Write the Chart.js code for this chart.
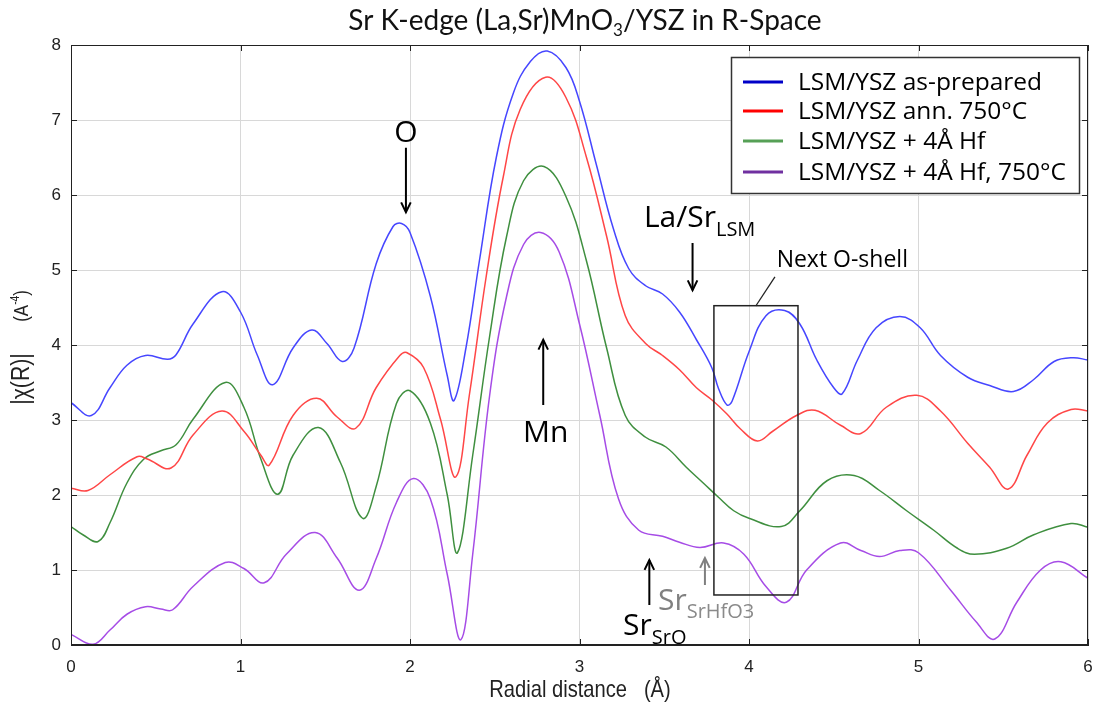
<!DOCTYPE html>
<html><head><meta charset="utf-8">
<script src="https://cdn.jsdelivr.net/npm/chart.js@4/dist/chart.umd.min.js"></script>
<style>html,body{margin:0;padding:0;background:#fff;}#wrap{width:1095px;height:707px;}</style>
</head><body><div id="wrap"><canvas id="c" width="1095" height="707"></canvas></div>
<script>
// ---- data (radial distance in Å, |chi(R)| in Å^-4) ----
const seriesNames = ["LSM/YSZ as-prepared", "LSM/YSZ ann. 750°C", "LSM/YSZ + 4Å Hf", "LSM/YSZ + 4Å Hf, 750°C"];
const xTicks = [0, 1, 2, 3, 4, 5, 6];
const yTicks = [0, 1, 2, 3, 4, 5, 6, 7, 8];

const rAsPrep = [0,0.12,0.23,0.33,0.44,0.57,0.62,0.72,0.89,1.0,1.10,1.19,1.31,1.42,1.51,1.60,1.67,1.80,1.90,1.95,2.0,2.12,2.22,2.26,2.33,2.41,2.51,2.61,2.71,2.81,2.92,3.0,3.10,3.20,3.29,3.39,3.49,3.59,3.69,3.78,3.82,3.87,3.90,4.0,4.10,4.21,4.30,4.40,4.50,4.55,4.64,4.75,4.89,5.01,5.13,5.29,5.42,5.56,5.68,5.80,5.91,6.0];
const chiAsPrep = [3.23,3.06,3.43,3.73,3.86,3.81,3.87,4.28,4.71,4.44,3.86,3.47,3.96,4.20,4.02,3.78,3.96,5.08,5.58,5.62,5.50,4.65,3.59,3.26,3.96,5.13,6.51,7.36,7.78,7.92,7.70,7.25,6.40,5.55,5.02,4.79,4.68,4.44,4.07,3.70,3.42,3.20,3.25,3.91,4.39,4.46,4.28,3.80,3.43,3.35,3.80,4.23,4.38,4.23,3.86,3.57,3.46,3.38,3.54,3.78,3.83,3.80];

const rAnn = [0,0.10,0.23,0.39,0.45,0.59,0.72,0.89,1.02,1.12,1.17,1.31,1.45,1.57,1.68,1.80,1.94,1.98,2.08,2.18,2.27,2.35,2.45,2.55,2.65,2.80,2.92,3.04,3.16,3.27,3.39,3.49,3.59,3.69,3.78,3.87,3.95,4.05,4.14,4.28,4.39,4.54,4.66,4.81,4.99,5.13,5.29,5.42,5.53,5.64,5.76,5.90,6.0];
const chiAnn = [2.09,2.06,2.27,2.51,2.48,2.36,2.80,3.12,2.85,2.53,2.40,3.06,3.29,3.04,2.89,3.43,3.86,3.90,3.70,3.01,2.24,3.33,4.92,6.24,7.14,7.57,7.30,6.51,5.45,4.39,4.02,3.86,3.67,3.43,3.27,3.08,2.88,2.72,2.85,3.06,3.13,2.93,2.82,3.17,3.33,3.12,2.69,2.37,2.08,2.53,2.96,3.14,3.12];

const rHf = [0,0.07,0.16,0.23,0.33,0.43,0.53,0.62,0.72,0.91,1.02,1.12,1.22,1.31,1.46,1.59,1.72,1.80,1.92,2.0,2.12,2.22,2.28,2.37,2.47,2.57,2.67,2.79,2.92,3.04,3.16,3.27,3.39,3.51,3.63,3.73,3.82,3.91,4.0,4.19,4.30,4.46,4.62,4.77,4.93,5.09,5.23,5.33,5.52,5.68,5.90,6.0];
const chiHf = [1.58,1.47,1.38,1.63,2.16,2.48,2.59,2.67,3.01,3.50,3.17,2.48,2.01,2.53,2.90,2.43,1.69,2.11,3.22,3.39,2.96,2.00,1.23,2.53,4.12,5.45,6.19,6.38,5.98,5.13,3.96,3.06,2.77,2.64,2.37,2.16,1.97,1.79,1.69,1.58,1.79,2.19,2.26,2.06,1.79,1.53,1.29,1.21,1.29,1.47,1.62,1.57];

const rHfAnn = [0,0.13,0.23,0.33,0.44,0.53,0.60,0.72,0.91,1.02,1.14,1.27,1.44,1.57,1.70,1.80,1.92,2.02,2.12,2.22,2.30,2.37,2.47,2.57,2.67,2.77,2.88,3.0,3.12,3.23,3.35,3.49,3.59,3.71,3.85,3.97,4.10,4.22,4.34,4.54,4.66,4.77,4.89,5.0,5.19,5.34,5.45,5.58,5.72,5.84,6.0];
const chiHfAnn = [0.14,0.01,0.20,0.41,0.51,0.48,0.47,0.78,1.10,1.02,0.83,1.21,1.50,1.16,0.73,1.15,1.90,2.22,1.95,0.94,0.07,1.21,3.33,4.65,5.34,5.50,5.24,4.28,3.06,1.95,1.53,1.45,1.37,1.30,1.36,1.21,0.78,0.57,1.00,1.36,1.26,1.18,1.26,1.23,0.73,0.31,0.08,0.57,1.00,1.11,0.89];

const lineColors = ['#4646ff', '#ff4646', '#3f8f3f', '#a64ce6'];
const legendColors = ['#0000c8', '#ff0000', '#56a056', '#7030a0'];

const seriesR = [rAsPrep, rAnn, rHf, rHfAnn];
const seriesChi = [chiAsPrep, chiAnn, chiHf, chiHfAnn];

const armo = '"Liberation Sans", Arial, sans-serif';
const uiFont = '"Open Sans", "Noto Sans", sans-serif';
const titleFont = 'Lato, "Open Sans", sans-serif';

function drawRich(ctx, parts, x, y, align) {
  let total = 0;
  const widths = parts.map(p => { ctx.font = p.size + 'px ' + (p.family || uiFont); const w = ctx.measureText(p.t).width; total += w; return w; });
  let cx = align === 'center' ? x - total / 2 : (align === 'right' ? x - total : x);
  ctx.textAlign = 'left';
  ctx.textBaseline = 'alphabetic';
  parts.forEach((p, i) => {
    ctx.font = p.size + 'px ' + (p.family || uiFont);
    ctx.fillStyle = p.color || '#000';
    ctx.fillText(p.t, cx, y + (p.dy || 0));
    cx += widths[i];
  });
}

function narrowText(ctx, text, x, y, size, sx, color, bold) {
  ctx.save();
  ctx.translate(x, y); ctx.scale(sx, 1);
  ctx.font = (bold ? 'bold ' : '') + size + 'px ' + armo;
  ctx.fillStyle = color; ctx.textAlign = 'center'; ctx.textBaseline = 'middle';
  ctx.fillText(text, 0, 0);
  ctx.restore();
}

function arrow(ctx, x1, y1, x2, y2, color, width) {
  ctx.save();
  ctx.strokeStyle = color; ctx.fillStyle = color; ctx.lineWidth = width;
  ctx.beginPath(); ctx.moveTo(x1, y1); ctx.lineTo(x2, y2); ctx.stroke();
  const a = Math.atan2(y2 - y1, x2 - x1);
  const L = 11, W = 0.45;
  ctx.beginPath();
  ctx.moveTo(x2 - L * Math.cos(a - W), y2 - L * Math.sin(a - W));
  ctx.lineTo(x2, y2);
  ctx.lineTo(x2 - L * Math.cos(a + W), y2 - L * Math.sin(a + W));
  ctx.stroke();
  ctx.restore();
}

const decor = {
  id: 'decor',
  afterDraw(chart) {
    const ctx = chart.ctx;
    const a = chart.chartArea;
    const xs = chart.scales.x, ys = chart.scales.y;
    const X = v => xs.getPixelForValue(v), Y = v => ys.getPixelForValue(v);
    ctx.save();
    // frame
    ctx.strokeStyle = '#222'; ctx.lineWidth = 1;
    ctx.strokeRect(a.left + 0.5, a.top + 0.5, a.right - a.left - 1, a.bottom - a.top - 1);
    // inward ticks
    ctx.beginPath();
    xTicks.forEach(t => { const px = Math.round(X(t)) + 0.5; ctx.moveTo(px, a.bottom); ctx.lineTo(px, a.bottom - 6); ctx.moveTo(px, a.top); ctx.lineTo(px, a.top + 6); });
    yTicks.forEach(t => { const py = Math.round(Y(t)) + 0.5; ctx.moveTo(a.left, py); ctx.lineTo(a.left + 6, py); ctx.moveTo(a.right, py); ctx.lineTo(a.right - 6, py); });
    ctx.stroke();

    // title
    drawRich(ctx, [
      {t: 'Sr K-edge (La,Sr)MnO', size: 28, family: titleFont, color: '#111'},
      {t: '3', size: 17, dy: 6, family: titleFont, color: '#111'},
      {t: '/YSZ in R-Space', size: 28, family: titleFont, color: '#111'}
    ], 585, 30, 'center');

    // x axis title
    narrowText(ctx, 'Radial distance   (Å)', 580, 690, 24, 0.84, '#222', false);

    // y axis title
    ctx.save();
    ctx.translate(22, 379); ctx.rotate(-Math.PI / 2);
    ctx.scale(0.85, 1);
    ctx.font = '25px ' + armo; ctx.fillStyle = '#222'; ctx.textAlign = 'center'; ctx.textBaseline = 'middle';
    ctx.fillText('|χ(R)|', 0, 0);
    ctx.restore();
    ctx.save();
    ctx.translate(22, 306); ctx.rotate(-Math.PI / 2);
    ctx.scale(0.85, 1);
    ctx.font = '20px ' + armo; ctx.fillStyle = '#222'; ctx.textAlign = 'left'; ctx.textBaseline = 'middle';
    const w1 = ctx.measureText('(A').width, w2 = ctx.measureText(')').width;
    ctx.font = '12px ' + armo; const w3 = ctx.measureText('-4').width;
    const tot = w1 + w2 + w3;
    ctx.font = '20px ' + armo;
    ctx.fillText('(A', -tot / 2, 0);
    ctx.font = '12px ' + armo;
    ctx.fillText('-4', -tot / 2 + w1, -6);
    ctx.font = '20px ' + armo;
    ctx.fillText(')', -tot / 2 + w1 + w3, 0);
    ctx.restore();

    // legend
    ctx.fillStyle = '#fff'; ctx.fillRect(731, 57, 348, 136);
    ctx.strokeStyle = '#333'; ctx.lineWidth = 1.5; ctx.strokeRect(731.5, 57.5, 348, 136);
    const rows = [82, 111, 141, 172];
    seriesNames.forEach((n, i) => {
      ctx.strokeStyle = legendColors[i]; ctx.lineWidth = 3;
      ctx.beginPath(); ctx.moveTo(743, rows[i]); ctx.lineTo(783, rows[i]); ctx.stroke();
      ctx.fillStyle = '#000'; ctx.font = '24.5px ' + uiFont; ctx.textAlign = 'left'; ctx.textBaseline = 'middle';
      ctx.fillText(n, 798, rows[i] + 1);
    });

    // annotations
    drawRich(ctx, [{t: 'O', size: 30}], X(1.976), Y(6.71), 'center');
    arrow(ctx, X(1.976), Y(6.63), X(1.976), Y(5.77), '#000', 2);

    drawRich(ctx, [{t: 'La/Sr', size: 30}, {t: 'LSM', size: 20, dy: 9}], X(3.38), Y(5.58), 'left');
    arrow(ctx, X(3.667), Y(5.36), X(3.667), Y(4.73), '#000', 2);

    drawRich(ctx, [{t: 'Next O-shell', size: 23}], X(4.163), Y(5.04), 'left');
    ctx.strokeStyle = '#222'; ctx.lineWidth = 1.3;
    ctx.beginPath(); ctx.moveTo(X(4.04), Y(4.52)); ctx.lineTo(X(4.153), Y(4.907)); ctx.stroke();
    ctx.lineWidth = 1.5; ctx.strokeStyle = '#222';
    ctx.strokeRect(X(3.793), Y(4.524), X(4.289) - X(3.793), Y(0.667) - Y(4.524));

    drawRich(ctx, [{t: 'Mn', size: 30}], X(2.80), Y(2.71), 'center');
    arrow(ctx, X(2.786), Y(3.2), X(2.786), Y(4.07), '#000', 2);

    arrow(ctx, X(3.412), Y(0.533), X(3.412), Y(1.133), '#000', 2);
    drawRich(ctx, [{t: 'Sr', size: 30}, {t: 'SrO', size: 20, dy: 9}], X(3.257), Y(0.133), 'left');

    arrow(ctx, X(3.74), Y(0.80), X(3.74), Y(1.16), '#7f7f7f', 2);
    drawRich(ctx, [{t: 'Sr', size: 30, color: '#808080'}, {t: 'SrHfO3', size: 20, dy: 8, color: '#8a8a8a'}], X(3.463), Y(0.467), 'left');
    ctx.restore();
  }
};

const datasets = seriesNames.map((n, i) => ({
  label: n,
  data: seriesR[i].map((r, j) => ({x: r, y: seriesChi[i][j]})),
  borderColor: lineColors[i],
  borderWidth: 1.5,
  pointRadius: 0,
  fill: false,
  tension: 0.4
}));

new Chart(document.getElementById('c'), {
  type: 'line',
  data: { datasets },
  options: {
    responsive: false,
    animation: false,
    devicePixelRatio: 1,
    layout: { padding: { top: 45, right: 7, left: 0, bottom: 0 } },
    plugins: { legend: { display: false }, tooltip: { enabled: false }, title: { display: false } },
    scales: {
      x: {
        type: 'linear', min: 0, max: 6,
        afterBuildTicks: s => { s.ticks = xTicks.map(v => ({value: v})); },
        afterFit: s => { s.height = 62; s.paddingLeft = 0; s.paddingRight = 0; },
        ticks: { font: { family: armo, size: 17 }, color: '#222', padding: 12, maxRotation: 0 },
        grid: { color: '#d8d8d8', lineWidth: 1, drawTicks: false },
        border: { color: '#222', width: 1 }
      },
      y: {
        type: 'linear', min: 0, max: 8,
        afterBuildTicks: s => { s.ticks = yTicks.map(v => ({value: v})); },
        afterFit: s => { s.width = 71; s.paddingTop = 0; s.paddingBottom = 0; },
        ticks: { font: { family: armo, size: 17 }, color: '#222', padding: 10 },
        grid: { color: '#d8d8d8', lineWidth: 1, drawTicks: false },
        border: { color: '#222', width: 1 }
      }
    }
  },
  plugins: [decor]
});
</script>
</body></html>
